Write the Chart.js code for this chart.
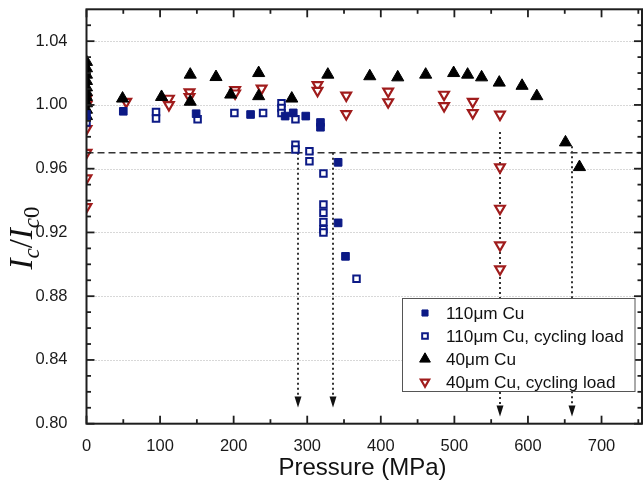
<!DOCTYPE html>
<html>
<head>
<meta charset="utf-8">
<script src="https://cdn.jsdelivr.net/npm/chart.js@4/dist/chart.umd.min.js"></script>
<style>
  html, body { margin: 0; padding: 0; background: #fff; overflow: hidden; }
  #wrap { width: 650px; height: 490px; }
</style>
</head>
<body>
<div id="wrap"><canvas id="chart" width="650" height="490"></canvas></div>
<script>
// Normalised critical current Ic/Ic0 versus transverse pressure (MPa)
const cu110Pressure = [0, 50, 149, 223, 270, 281, 298, 318, 318, 342, 342, 352];
const cu110Ratio    = [0.994, 0.996, 0.9945, 0.994, 0.993, 0.995, 0.993, 0.989, 0.986, 0.964, 0.926, 0.905];

const cu110CycPressure = [0, 94.5, 94.5, 151, 201, 240, 265, 265, 265, 284, 284, 284, 303, 303, 322, 322, 322, 322, 322, 322, 367];
const cu110CycRatio    = [0.989, 0.9955, 0.9915, 0.991, 0.995, 0.995, 1.001, 0.998, 0.995, 0.991, 0.975, 0.972, 0.971, 0.9646, 0.957, 0.9375, 0.9323, 0.9265, 0.922, 0.920, 0.891];

const cu40Pressure = [0, 0, 0, 0, 0, 0, 0, 0, 0, 0, 49, 102, 141, 141, 176, 196, 234, 234, 279, 328, 385, 423, 461, 499, 518, 537, 561, 592, 612, 651, 670];
const cu40Ratio    = [1.027, 1.023, 1.019, 1.015, 1.011, 1.008, 1.005, 1.001, 0.997, 0.993, 1.004, 1.005, 1.019, 1.002, 1.0175, 1.0065, 1.020, 1.0055, 1.004, 1.019, 1.018, 1.0173, 1.019, 1.020, 1.019, 1.0173, 1.014, 1.012, 1.0055, 0.9765, 0.961];

const cu40CycPressure = [0, 0, 0, 0, 0, 0, 54, 112, 112, 140, 140, 202, 202, 238, 314, 314, 353, 353, 410, 410, 486, 486, 525, 525, 562, 562, 562, 562, 562];
const cu40CycRatio    = [1.004, 1.000, 0.985, 0.970, 0.954, 0.936, 1.002, 1.004, 1.000, 1.008, 1.005, 1.0094, 1.0073, 1.0104, 1.0125, 1.009, 1.006, 0.9944, 1.0085, 1.0018, 1.0065, 0.9994, 1.002, 0.995, 0.994, 0.961, 0.935, 0.912, 0.897];

// 97 % retention criterion and the critical pressures marked by arrows
const retentionLevel = 0.97;
const criticalPressure = [287, 335, 562, 660];
const arrowFrom = [0.970, 0.970, 0.983, 0.974];
const arrowTo   = [0.8101, 0.8101, 0.8045, 0.8045];

const seriesLabels = ['110\u03bcm Cu', '110\u03bcm Cu, cycling load', '40\u03bcm Cu', '40\u03bcm Cu, cycling load'];

const xTicks = [0, 100, 200, 300, 400, 500, 600, 700];
const xMinorTicks = [50, 150, 250, 350, 450, 550, 650, 750];
const yTicks = [0.80, 0.84, 0.88, 0.92, 0.96, 1.00, 1.04];
const yMinorTicks = [0.81, 0.82, 0.83, 0.85, 0.86, 0.87, 0.89, 0.90, 0.91, 0.93, 0.94, 0.95, 0.97, 0.98, 0.99, 1.01, 1.02, 1.03, 1.05];

const X_MIN = 0, X_MAX = 755, Y_MIN = 0.80, Y_MAX = 1.06;

const NAVY = '#0c1a86';
const RED = '#a01c1c';
const INK = '#1e1e1e';

const pts = (xs, ys) => xs.map((x, i) => ({ x, y: ys[i] }));

const pointStyles = [
  { pointStyle: 'rect', radius: 5.4, rotation: 0, backgroundColor: NAVY, borderColor: NAVY, borderWidth: 1 },
  { pointStyle: 'rect', radius: 4.6, rotation: 0, backgroundColor: '#ffffff', borderColor: NAVY, borderWidth: 2 },
  { pointStyle: 'triangle', radius: 7, rotation: 0, backgroundColor: '#000000', borderColor: '#000000', borderWidth: 1 },
  { pointStyle: 'triangle', radius: 5.6, rotation: 180, backgroundColor: '#ffffff', borderColor: RED, borderWidth: 2.2 }
];

const seriesData = [
  pts(cu110Pressure, cu110Ratio),
  pts(cu110CycPressure, cu110CycRatio),
  pts(cu40Pressure, cu40Ratio),
  pts(cu40CycPressure, cu40CycRatio)
];

const datasets = seriesData.map((data, i) => ({
  label: seriesLabels[i],
  data,
  showLine: false,
  clip: 0,
  pointStyle: pointStyles[i].pointStyle,
  pointRadius: pointStyles[i].radius,
  pointRotation: pointStyles[i].rotation,
  pointBackgroundColor: pointStyles[i].backgroundColor,
  pointBorderColor: pointStyles[i].borderColor,
  pointBorderWidth: pointStyles[i].borderWidth,
  pointHoverRadius: pointStyles[i].radius
}));

function strokeLine(ctx, x0, y0, x1, y1) {
  ctx.beginPath();
  ctx.moveTo(x0, y0);
  ctx.lineTo(x1, y1);
  ctx.stroke();
}

// Grid, retention line and arrows beneath the markers
const underlay = {
  id: 'underlay',
  beforeDatasetsDraw(chart) {
    const { ctx, chartArea: a, scales: { x, y } } = chart;
    ctx.save();
    ctx.strokeStyle = '#b0b0b0';
    ctx.lineWidth = 1;
    ctx.setLineDash([1, 2]);
    yTicks.forEach(v => {
      if (v <= Y_MIN) return;
      const py = Math.round(y.getPixelForValue(v)) + 0.5;
      strokeLine(ctx, a.left, py, a.right, py);
    });

    ctx.strokeStyle = '#333';
    ctx.lineWidth = 1.6;
    ctx.setLineDash([7, 4]);
    const ry = y.getPixelForValue(retentionLevel);
    strokeLine(ctx, a.left, ry, a.right, ry);

    ctx.setLineDash([2, 3]);
    ctx.lineWidth = 2;
    ctx.strokeStyle = '#333';
    ctx.fillStyle = '#111';
    criticalPressure.forEach((p, i) => {
      const px = Math.round(x.getPixelForValue(p));
      const y0 = y.getPixelForValue(arrowFrom[i]);
      const y1 = y.getPixelForValue(arrowTo[i]);
      strokeLine(ctx, px, y0, px, y1 - 10);
      ctx.beginPath();
      ctx.moveTo(px - 3.5, y1 - 11);
      ctx.lineTo(px + 3.5, y1 - 11);
      ctx.lineTo(px, y1);
      ctx.closePath();
      ctx.fill();
    });
    ctx.restore();
  }
};

// Frame, inward tick marks, legend and axis titles
const overlay = {
  id: 'overlay',
  afterDraw(chart) {
    const { ctx, chartArea: a, scales: { x, y } } = chart;
    ctx.save();
    ctx.strokeStyle = INK;
    ctx.setLineDash([]);

    // ticks on all four sides, pointing into the plot
    ctx.lineWidth = 1.8;
    const tick = (vals, len) => {
      vals.forEach(v => {
        const px = x.getPixelForValue(v);
        if (px < a.left - 0.5 || px > a.right + 0.5) return;
        strokeLine(ctx, px, a.bottom, px, a.bottom - len);
        strokeLine(ctx, px, a.top, px, a.top + len);
      });
    };
    const tickY = (vals, len) => {
      vals.forEach(v => {
        const py = y.getPixelForValue(v);
        strokeLine(ctx, a.left, py, a.left + len, py);
        strokeLine(ctx, a.right, py, a.right - len, py);
      });
    };
    tick(xTicks, 8);
    tick(xMinorTicks, 4.5);
    tickY(yTicks, 8);
    tickY(yMinorTicks, 4.5);

    ctx.lineWidth = 2;
    ctx.strokeRect(a.left, a.top, a.right - a.left, a.bottom - a.top);

    // legend box
    const lx = 402.5, ly = 298.5, lw = 232.5, lh = 93;
    ctx.fillStyle = '#ffffff';
    ctx.fillRect(lx, ly, lw, lh);
    ctx.lineWidth = 1;
    ctx.strokeStyle = '#555';
    ctx.strokeRect(lx, ly, lw, lh);
    const rowY = [313, 336, 359, 382];
    const legendRadius = [4.3, 4, 6.2, 4.8];
    ctx.font = '17.2px "Liberation Sans", Arial, sans-serif';
    ctx.textBaseline = 'middle';
    ctx.textAlign = 'left';
    seriesLabels.forEach((label, i) => {
      const st = pointStyles[i];
      ctx.fillStyle = st.backgroundColor;
      ctx.strokeStyle = st.borderColor;
      ctx.lineWidth = st.borderWidth;
      Chart.helpers.drawPoint(ctx, {
        pointStyle: st.pointStyle,
        rotation: st.rotation,
        radius: legendRadius[i],
        borderWidth: st.borderWidth
      }, 425, rowY[i]);
      ctx.fillStyle = '#111';
      ctx.fillText(label, 446, rowY[i] + 1);
    });

    // x-axis title
    ctx.fillStyle = '#111';
    ctx.font = '24px "Liberation Sans", Arial, sans-serif';
    ctx.textAlign = 'center';
    ctx.textBaseline = 'middle';
    ctx.fillText('Pressure (MPa)', 362.5, 468);

    // y-axis title: I_c / I_c0
    const parts = [
      { t: 'I', f: 'italic 33px "Liberation Serif", serif', dy: 0 },
      { t: 'c', f: 'italic 23px "Liberation Serif", serif', dy: 7 },
      { t: '/', f: '33px "Liberation Serif", serif', dy: 0 },
      { t: 'I', f: 'italic 33px "Liberation Serif", serif', dy: 0 },
      { t: 'c', f: 'italic 23px "Liberation Serif", serif', dy: 7 },
      { t: '0', f: '23px "Liberation Serif", serif', dy: 7 }
    ];
    let total = 0;
    parts.forEach(p => { ctx.font = p.f; p.w = ctx.measureText(p.t).width; total += p.w; });
    ctx.translate(21, 238);
    ctx.rotate(-Math.PI / 2);
    ctx.textAlign = 'left';
    ctx.textBaseline = 'alphabetic';
    let cx = -total / 2;
    parts.forEach(p => {
      ctx.font = p.f;
      ctx.fillText(p.t, cx, 11 + p.dy);
      cx += p.w;
    });
    ctx.restore();
  }
};

new Chart(document.getElementById('chart'), {
  type: 'scatter',
  data: { datasets },
  options: {
    responsive: false,
    animation: false,
    events: [],
    layout: { padding: { top: 9.3, right: 4.3, left: 0, bottom: 0 } },
    plugins: { legend: { display: false }, tooltip: { enabled: false } },
    scales: {
      x: {
        type: 'linear',
        min: X_MIN,
        max: X_MAX,
        grid: { display: false },
        border: { display: false },
        ticks: {
          padding: 5,
          color: '#1a1a1a',
          font: { family: '"Liberation Sans", Arial, sans-serif', size: 16.5 },
          maxRotation: 0,
          callback: v => String(v)
        },
        afterBuildTicks(s) { s.ticks = xTicks.map(v => ({ value: v })); },
        afterFit(s) { s.height = 490 - 423.7; s.paddingLeft = 0; s.paddingRight = 0; }
      },
      y: {
        type: 'linear',
        min: Y_MIN,
        max: Y_MAX,
        grid: { display: false },
        border: { display: false },
        ticks: {
          padding: 11,
          color: '#1a1a1a',
          font: { family: '"Liberation Sans", Arial, sans-serif', size: 16.5 },
          callback: v => Number(v).toFixed(2)
        },
        afterBuildTicks(s) { s.ticks = yTicks.map(v => ({ value: v })); },
        afterFit(s) { s.width = 86.5; s.paddingTop = 0; s.paddingBottom = 0; }
      }
    }
  },
  plugins: [underlay, overlay]
});
</script>
</body>
</html>
